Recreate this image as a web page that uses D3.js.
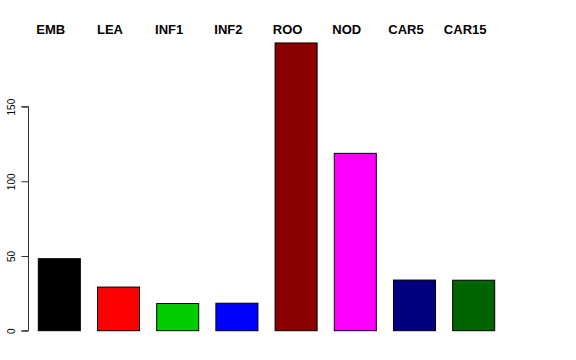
<!DOCTYPE html>
<html>
<head>
<meta charset="utf-8">
<script src="https://cdn.jsdelivr.net/npm/d3@7"></script>
<style>
  body { margin: 0; background: #fff; }
  svg { display: block; font-family: "Liberation Sans", Arial, Helvetica, sans-serif; }
</style>
</head>
<body>
<script>
(function(){

    //chart data
    var categories = ["EMB", "LEA", "INF1", "INF2", "ROO", "NOD", "CAR5", "CAR15"];
    var values = [48.2, 29.2, 18.2, 18.4, 192.6, 118.7, 33.9, 33.8];
    var barColors = ["#000000", "#ff0000", "#00cd00", "#0000ff", "#8b0000", "#ff00ff", "#000080", "#006400"];
    var yTicks = [0, 50, 100, 150];

    var width = 576,
        height = 360;

    var svg = d3.select("body")
        .append("svg")
        .attr("width", width)
        .attr("height", height);

    //scales
    var x = d3.scaleBand()
        .domain(categories)
        .range([38.3, 494.7])
        .paddingInner(0.29)
        .paddingOuter(0);

    var y = d3.scaleLinear()
        .domain([0, 150])
        .range([330.7, 106.6]);

    //bars
    svg.selectAll(".bar")
        .data(categories)
        .enter()
        .append("rect")
        .attr("class", "bar")
        .attr("x", function(d){ return x(d); })
        .attr("y", function(d, i){ return y(values[i]); })
        .attr("width", x.bandwidth())
        .attr("height", function(d, i){ return y(0) - y(values[i]); })
        .style("fill", function(d, i){ return barColors[i]; })
        .style("stroke", "#000")
        .style("stroke-width", 1);

    //y axis
    var yAxis = d3.axisLeft(y)
        .tickValues(yTicks)
        .tickSize(7)
        .tickFormat(d3.format("d"));

    var axisG = svg.append("g")
        .attr("transform", "translate(28.5,0)")
        .call(yAxis);

    axisG.select(".domain")
        .attr("d", "M-7," + y(150) + "H0V" + y(0) + "H-7")
        .attr("stroke", "#333");
    axisG.selectAll(".tick line").attr("stroke", "#333");

    axisG.selectAll(".tick text")
        .attr("font-size", 10)
        .attr("font-family", "Liberation Sans, Arial, sans-serif")
        .attr("fill", "#000")
        .attr("x", null)
        .attr("dy", null)
        .attr("text-anchor", "middle")
        .attr("transform", "translate(-14,0) rotate(-90)");

    //category labels on top
    svg.selectAll(".lab")
        .data(categories)
        .enter()
        .append("text")
        .attr("class", "lab")
        .attr("x", function(d){ return x(d) + x.bandwidth() / 2 - 8.5; })
        .attr("y", 34)
        .attr("text-anchor", "middle")
        .attr("font-size", 13)
        .attr("font-weight", "bold")
        .text(function(d){ return d; });

})();
</script>
</body>
</html>
